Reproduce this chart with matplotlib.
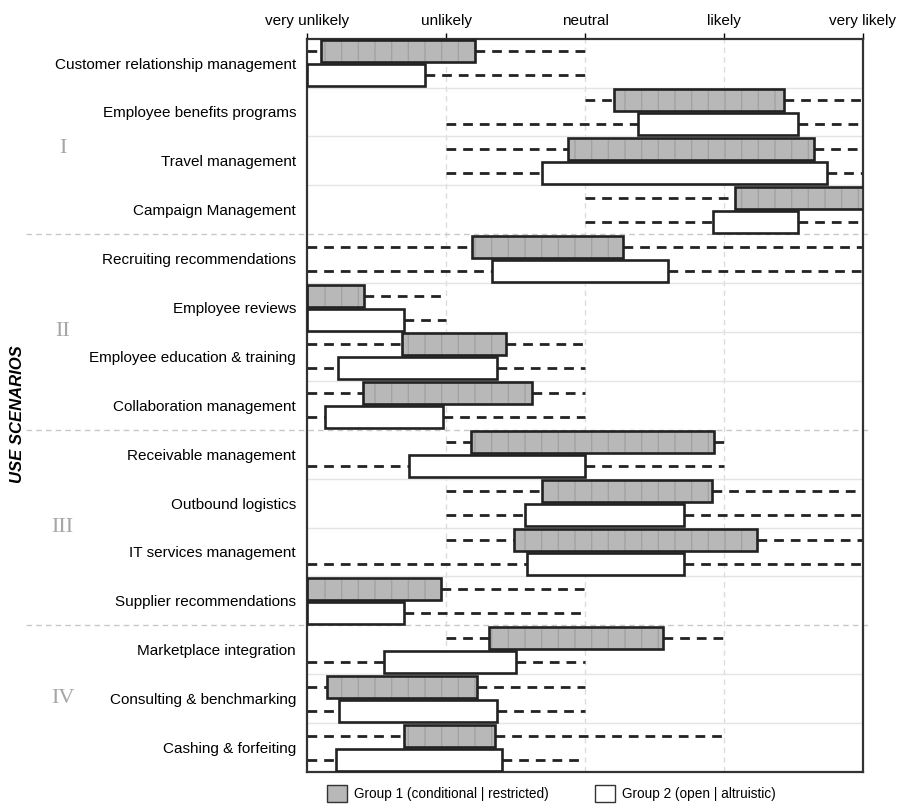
import numpy as np
import matplotlib.pyplot as plt
from matplotlib.patches import Patch

plt.rcParams['font.family'] = ['Liberation Sans', 'DejaVu Sans']

# use scenarios, top to bottom
scenarios = ['Customer relationship management', 'Employee benefits programs',
             'Travel management', 'Campaign Management',
             'Recruiting recommendations', 'Employee reviews',
             'Employee education & training', 'Collaboration management',
             'Receivable management', 'Outbound logistics',
             'IT services management', 'Supplier recommendations',
             'Marketplace integration', 'Consulting & benchmarking',
             'Cashing & forfeiting']
section_names = ['I', 'II', 'III', 'IV']
section_sizes = [4, 4, 4, 3]

scale_labels = ['very unlikely', 'unlikely', 'neutral', 'likely', 'very likely']

# group 1 (conditional | restricted): whisker min, box low, box high, whisker max
g1_min = [1.0, 3.0, 2.0, 3.0, 1.0, 1.0, 1.0, 1.0, 2.0, 2.0, 2.0, 1.0, 2.0, 1.0, 1.0]
g1_q1 = [1.10, 3.21, 2.88, 4.08, 2.19, 1.0, 1.68, 1.40, 2.18, 2.69, 2.49, 1.0, 2.31, 1.14, 1.70]
g1_q3 = [2.21, 4.43, 4.65, 5.0, 3.27, 1.41, 2.43, 2.62, 3.93, 3.91, 4.24, 1.96, 3.56, 2.22, 2.35]
g1_max = [3.0, 5.0, 5.0, 5.0, 5.0, 2.0, 3.0, 3.0, 4.03, 5.0, 5.0, 3.0, 4.0, 3.0, 4.0]

# group 2 (open | altruistic)
g2_min = [1.0, 2.0, 2.0, 3.0, 1.0, 1.0, 1.0, 1.0, 1.0, 2.0, 1.0, 1.0, 1.0, 1.0, 1.0]
g2_q1 = [1.0, 3.38, 2.69, 3.92, 2.33, 1.0, 1.22, 1.13, 1.73, 2.57, 2.58, 1.0, 1.55, 1.23, 1.21]
g2_q3 = [1.85, 4.53, 4.74, 4.53, 3.60, 1.70, 2.37, 1.98, 3.0, 3.71, 3.71, 1.70, 2.50, 2.37, 2.40]
g2_max = [3.0, 5.0, 5.0, 5.0, 5.0, 2.0, 3.0, 3.0, 4.0, 5.0, 5.0, 3.0, 3.0, 3.0, 3.0]

n = len(scenarios)
y = np.arange(n)
off = 0.245
h = 0.45

fig = plt.figure(figsize=(8.98, 8.05), dpi=100)
ax = fig.add_axes([0.342, 0.041, 0.619, 0.911])

# vertical grid
for xv in [2, 3, 4]:
    ax.axvline(xv, color='#dcdcdc', lw=1, ls=(0, (4, 3)), zorder=0)

# row separators, dashed and extended between sections
bounds = np.cumsum(section_sizes)[:-1]
for i in range(n - 1):
    if i + 1 in bounds:
        ax.plot([-0.505, 1.012], [i + 0.5, i + 0.5], transform=ax.get_yaxis_transform(),
                color='#c8c8c8', lw=1, ls=(0, (4, 3)), clip_on=False, zorder=0)
    else:
        ax.axhline(i + 0.5, color='#e4e4e4', lw=1, zorder=0)

dash = (0, (3.5, 2.5))
for yy, mn, q1, q3, mx, face in [(y - off, g1_min, g1_q1, g1_q3, g1_max, 'g1'),
                                (y + off, g2_min, g2_q1, g2_q3, g2_max, 'g2')]:
    mn, q1, q3, mx = map(np.array, (mn, q1, q3, mx))
    for k in range(n):
        if q1[k] > mn[k]:
            ax.plot([mn[k], q1[k]], [yy[k], yy[k]], color='#222222', lw=2, ls=dash, zorder=2)
        if mx[k] > q3[k]:
            ax.plot([q3[k], mx[k]], [yy[k], yy[k]], color='#222222', lw=2, ls=dash, zorder=2)
    if face == 'g1':
        ax.barh(yy, q3 - q1, left=q1, height=h, color='#b8b8b8', edgecolor='#a2a2a2',
                hatch='|', linewidth=0, zorder=3)
        ax.barh(yy, q3 - q1, left=q1, height=h, fill=False, edgecolor='#222222',
                linewidth=1.9, zorder=4)
    else:
        ax.barh(yy, q3 - q1, left=q1, height=h, color='white', edgecolor='#222222',
                linewidth=1.9, zorder=4)

ax.set_xlim(1, 5)
ax.set_ylim(n - 0.5, -0.5)
ax.xaxis.tick_top()
ax.set_xticks([1, 2, 3, 4, 5])
ax.set_xticklabels(scale_labels, fontsize=11)
ax.tick_params(axis='x', length=4, width=1, pad=4)
ax.set_yticks(y)
ax.set_yticklabels(scenarios, fontsize=11)
ax.tick_params(axis='y', length=0, pad=8)
for sp in ax.spines.values():
    sp.set_linewidth(1.6)
    sp.set_color('#333333')

# section numerals
start = 0
for j, (name, size) in enumerate(zip(section_names, section_sizes)):
    yc = start + (size - 1) / 2 + (0.25 if j == 0 else 0)
    ax.text(-0.44, yc, name, transform=ax.get_yaxis_transform(), fontsize=16,
            family='Liberation Serif', color='#a6a6a6', ha='center', va='center')
    start += size

fig.text(0.02, 0.485, 'USE SCENARIOS', rotation=90, fontsize=12,
         fontweight='bold', fontstyle='italic', ha='center', va='center')

handles = [Patch(facecolor='#b8b8b8', edgecolor='#333333', label='Group 1 (conditional | restricted)'),
           Patch(facecolor='white', edgecolor='#333333', label='Group 2 (open | altruistic)')]
fig.legend(handles=handles, loc='center', bbox_to_anchor=(0.614, 0.014), ncol=2,
           frameon=False, fontsize=9.8, handlelength=1.5, handleheight=1.5,
           columnspacing=3.4, handletextpad=0.5)

fig.savefig('out.png', dpi=100)
